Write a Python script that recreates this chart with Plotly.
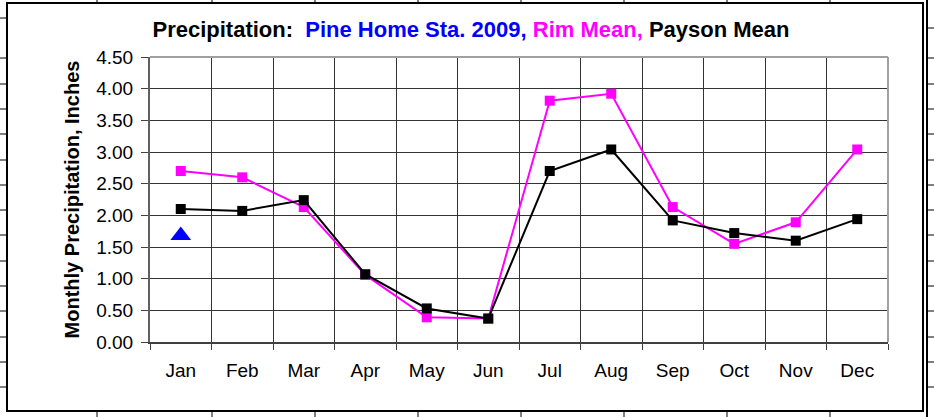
import plotly.graph_objects as go

# ---- data ----
months = ["Jan", "Feb", "Mar", "Apr", "May", "Jun", "Jul", "Aug", "Sep", "Oct", "Nov", "Dec"]
rim_mean = [2.70, 2.60, 2.13, 1.06, 0.39, 0.37, 3.81, 3.92, 2.13, 1.55, 1.89, 3.04]
payson_mean = [2.10, 2.07, 2.24, 1.07, 0.53, 0.37, 2.70, 3.04, 1.92, 1.72, 1.60, 1.94]
pine_months = ["Jan"]
pine_2009 = [1.68]
y_ticks = [0.0, 0.5, 1.0, 1.5, 2.0, 2.5, 3.0, 3.5, 4.0, 4.5]

FONT = "Liberation Sans, Arial, Helvetica, sans-serif"
W, H = 934, 417
L, R, T, B = 150, 888, 57, 342  # plot area in pixels


def X(px):
    return (px - L) / (R - L)


def Y(py):
    return (B - py) / (B - T)


fig = go.Figure()
fig.add_trace(go.Scatter(
    x=months, y=rim_mean, mode="lines+markers", name="Rim Mean",
    line=dict(color="#FF00FF", width=2),
    marker=dict(symbol="square", size=10, color="#FF00FF"),
))
fig.add_trace(go.Scatter(
    x=months, y=payson_mean, mode="lines+markers", name="Payson Mean",
    line=dict(color="#000000", width=2),
    marker=dict(symbol="square", size=10, color="#000000"),
))
fig.add_trace(go.Scatter(
    x=pine_months, y=pine_2009, mode="markers", name="Pine Home Sta. 2009",
    marker=dict(symbol="triangle-up", size=18, color="#0000FF"),
))

shapes = []
# plot area top/right border (gray)
shapes.append(dict(type="line", xref="paper", yref="paper", x0=0, x1=1, y0=1, y1=1,
                   line=dict(color="#A0A0A0", width=2)))
shapes.append(dict(type="line", xref="paper", yref="paper", x0=1, x1=1, y0=0, y1=1,
                   line=dict(color="#A0A0A0", width=2)))
# chart outer border
shapes.append(dict(type="rect", xref="paper", yref="paper", x0=X(7), x1=X(923), y0=Y(411), y1=Y(3),
                   line=dict(color="#000000", width=2)))
# spreadsheet cell lines around the chart
shapes.append(dict(type="line", xref="paper", yref="paper", x0=X(927), x1=X(927), y0=Y(417), y1=Y(0),
                   line=dict(color="#000000", width=2)))
col_x = [97, 212, 315, 418, 521, 624, 727, 830]
for cx in col_x:
    shapes.append(dict(type="line", xref="paper", yref="paper", x0=X(cx), x1=X(cx), y0=Y(0), y1=Y(3),
                       line=dict(color="#000000", width=1)))
    shapes.append(dict(type="line", xref="paper", yref="paper", x0=X(cx), x1=X(cx), y0=Y(411), y1=Y(417),
                       line=dict(color="#000000", width=1)))
row_y_left = [18, 58, 84, 109, 134, 160, 185, 210, 235, 261, 286, 311, 337, 362, 387]
row_y_right = [28, 58, 84, 109, 134, 160, 185, 210, 235, 261, 286, 311, 337, 362, 387]
for ry in row_y_left:
    shapes.append(dict(type="line", xref="paper", yref="paper", x0=X(0), x1=X(7), y0=Y(ry), y1=Y(ry),
                       line=dict(color="#000000", width=1)))
for ry in row_y_right:
    shapes.append(dict(type="line", xref="paper", yref="paper", x0=X(927), x1=X(934), y0=Y(ry), y1=Y(ry),
                       line=dict(color="#000000", width=1)))

title_text = ("<b>Precipitation:&nbsp; "
              "<span style='color:#0000FF'>Pine Home Sta. 2009,</span> "
              "<span style='color:#FF00FF'>Rim Mean,</span> "
              "Payson Mean</b>")

fig.update_layout(
    width=W, height=H,
    margin=dict(l=L, r=W - R, t=T, b=H - B, pad=0),
    paper_bgcolor="white", plot_bgcolor="white",
    showlegend=False,
    font=dict(family=FONT, color="#000000"),
    title=dict(text=title_text, font=dict(family=FONT, size=22, color="#000000"),
               xref="container", yref="container", x=471 / W, y=1 - 29 / H,
               xanchor="center", yanchor="middle"),
    shapes=shapes,
    xaxis=dict(
        type="category", categoryorder="array", categoryarray=months,
        range=[-0.5, len(months) - 0.5],
        tickson="boundaries", ticks="outside", ticklen=6, tickcolor="#404040", tickwidth=1,
        showgrid=True, gridcolor="#333333", gridwidth=1,
        showline=True, linecolor="#404040", linewidth=2,
        tickfont=dict(family=FONT, size=19, color="#000000"),
        ticklabelstandoff=10,
        fixedrange=True,
    ),
    yaxis=dict(
        range=[0, 4.5], tickmode="array", tickvals=y_ticks,
        ticktext=[f"{v:.2f}" for v in y_ticks],
        ticks="outside", ticklen=7, tickcolor="#404040", tickwidth=1,
        showgrid=True, gridcolor="#333333", gridwidth=1,
        showline=True, linecolor="#606060", linewidth=2,
        zeroline=False,
        tickfont=dict(family=FONT, size=19, color="#000000"),
        ticklabelstandoff=4,
        title=dict(text="<b>Monthly Precipitation, Inches</b>",
                   font=dict(family=FONT, size=20, color="#000000"), standoff=11),
        fixedrange=True,
    ),
)

fig.write_html("out.html", config={"displayModeBar": False},
               post_script="document.body.style.margin='0';document.body.style.overflow='hidden';")
